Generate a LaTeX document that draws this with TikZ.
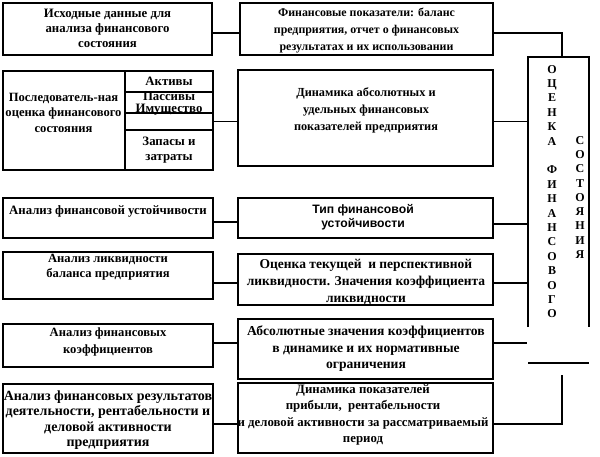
\documentclass[tikz,border=0pt]{standalone}
\usepackage{fontspec}
\setmainfont{Liberation Serif}
\newfontfamily\sansf{Liberation Sans}
\newcommand{\fsz}[2]{\bfseries\fontsize{#1}{#2}\selectfont}
\begin{document}
\begin{tikzpicture}[x=1pt,y=-1pt,
  box/.style={draw, line width=1.5pt, inner sep=0pt, minimum width=#1},
  txt/.style={inner sep=0pt, align=center, font=\fsz{12.8}{15}},
  conn/.style={line width=1.5pt}]
\useasboundingbox (0,0) rectangle (600,457);
% row 1
\node[box=209pt, minimum height=52pt] (A) at (107.5,29) {};
\node[txt] (tA) at (107.5,28.5) {Исходные данные для\\анализа финансового\\состояния};
\node[box=253pt, minimum height=52pt] (R1) at (366.5,29) {};
\node[txt, font=\fsz{11.9}{17}] (tR1) at (366.5,30.5) {Финансовые показатели: баланс\\предприятия, отчет о финансовых\\результатах и их использовании};
% row 2
\node[box=122pt, minimum height=99pt] (B) at (64,120.5) {};
\node[txt, font=\fsz{12.6}{15.5}] (tB) at (63.5,112.5) {Последователь-ная\\оценка финансового\\состояния};
\node[box=88pt, minimum height=21pt] (B1) at (169,81.5) {};
\node[box=88pt, minimum height=21pt] (B2) at (169,102.5) {};
\node[box=88pt, minimum height=17pt] (B3) at (169,121.5) {};
\node[box=88pt, minimum height=40pt] (B4) at (169,150) {};
\node[txt] (tB1) at (169,81) {Активы};
\node[txt] (tB2) at (169,96) {Пассивы};
\node[txt] (tB2b) at (169,110) {Имущество};
\node[txt] (tB4) at (169,150) {Запасы и\\затраты};
\node[box=255pt, minimum height=96pt] (R2) at (365.5,118) {};
\node[txt, font=\fsz{12.3}{17}] (tR2) at (366,110) {Динамика абсолютных и\\удельных финансовых\\показателей предприятия};
% row 3
\node[box=210pt, minimum height=40pt] (C) at (108,218) {};
\node[txt] (tC) at (108,211) {Анализ финансовой устойчивости};
\node[box=255pt, minimum height=40pt] (R3) at (365.5,218) {};
\node[txt, font=\sansf\fsz{12.2}{13.5}] (tR3) at (363,217) {Тип финансовой\\устойчивости};
% row 4
\node[box=210pt, minimum height=47pt] (D) at (108,275.5) {};
\node[txt, font=\fsz{12.6}{15}] (tD) at (108,267.5) {Анализ ликвидности\\баланса предприятия};
\node[box=255pt, minimum height=51pt] (R4) at (365.5,279.5) {};
\node[txt, font=\fsz{13.5}{17}] (tR4) at (366,282) {Оценка текущей \ и перспективной\\ликвидности. Значения коэффициента\\ликвидности};
% row 5
\node[box=210pt, minimum height=43pt] (E) at (108,345.5) {};
\node[txt, font=\fsz{12.6}{17}] (tE) at (108,341.5) {Анализ финансовых\\коэффициентов};
\node[box=255pt, minimum height=60pt] (R5) at (365.5,349) {};
\node[txt, font=\fsz{13.6}{16.5}] (tR5) at (366,349) {Абсолютные значения коэффициентов\\в динамике и их нормативные\\ограничения};
% row 6
\node[box=210pt, minimum height=69pt] (F) at (108,418.5) {};
\node[txt, font=\fsz{14}{15.5}] (tF) at (108,420) {Анализ финансовых результатов\\деятельности, рентабельности и\\деловой активности\\предприятия};
\node[box=255pt, minimum height=70pt] (R6) at (365.5,418) {};
\node[txt, font=\fsz{12.8}{16.5}] (tR6) at (363,415) {Динамика показателей\\прибыли, \ рентабельности\\и деловой активности за рассматриваемый\\период};
% vertical column
\coordinate (Vtl) at (528,57);
\coordinate (Vtr) at (589,57);
\coordinate (Vbl) at (528,327);
\coordinate (Vbr) at (589,327);
\coordinate (Vtop) at (562,57);
\draw[conn] (Vbl) -- (Vtl) -- (Vtr) -- (Vbr);
\node[txt, anchor=north, font=\fsz{12}{14.4}] (col1) at (552,65)
 {О\\Ц\\Е\\Н\\К\\А\\ \\Ф\\И\\Н\\А\\Н\\С\\О\\В\\О\\Г\\О};
\node[txt, anchor=north, font=\fsz{12}{14.3}] (col2) at (580,136)
 {С\\О\\С\\Т\\О\\Я\\Н\\И\\Я};
% connectors
\draw[conn] ([yshift=-4pt]A.east) -- ([yshift=-4pt]R1.west);
\draw[conn] ([yshift=-4pt]R1.east) -| (Vtop);
\draw[conn] (B3.east) -- (B3.east -| R2.west);
\draw[conn] (B3.east -| R2.east) -- (B3.east -| Vtl);
\draw[conn] ([yshift=-4pt]C.east) -- ([yshift=-4pt]R3.west);
\draw[conn] ([yshift=-6pt]R3.east) -- ([yshift=-6pt]R3.east -| Vtl);
\draw[conn] ([yshift=-7.5pt]D.east) -- ([yshift=-7.5pt]D.east -| R4.west);
\draw[conn] ([yshift=-7.5pt]D.east -| R4.east) -- ([yshift=-7.5pt]D.east -| Vtl);
\coordinate (e5) at (527,343);
\draw[conn] (E.east |- e5) -- (R5.west |- e5);
\draw[conn] (R5.east |- e5) -- (e5);
\coordinate (s1) at (528,363);
\coordinate (s2) at (589,363);
\draw[conn] (s1) -- (s2);
\coordinate (v1) at (562,375);
\coordinate (v2) at (562,424);
\draw[conn] (v1) -- (v2) -- (v2 -| R6.east);
\draw[conn] (F.east |- v2) -- (R6.west |- v2);
\end{tikzpicture}
\end{document}
